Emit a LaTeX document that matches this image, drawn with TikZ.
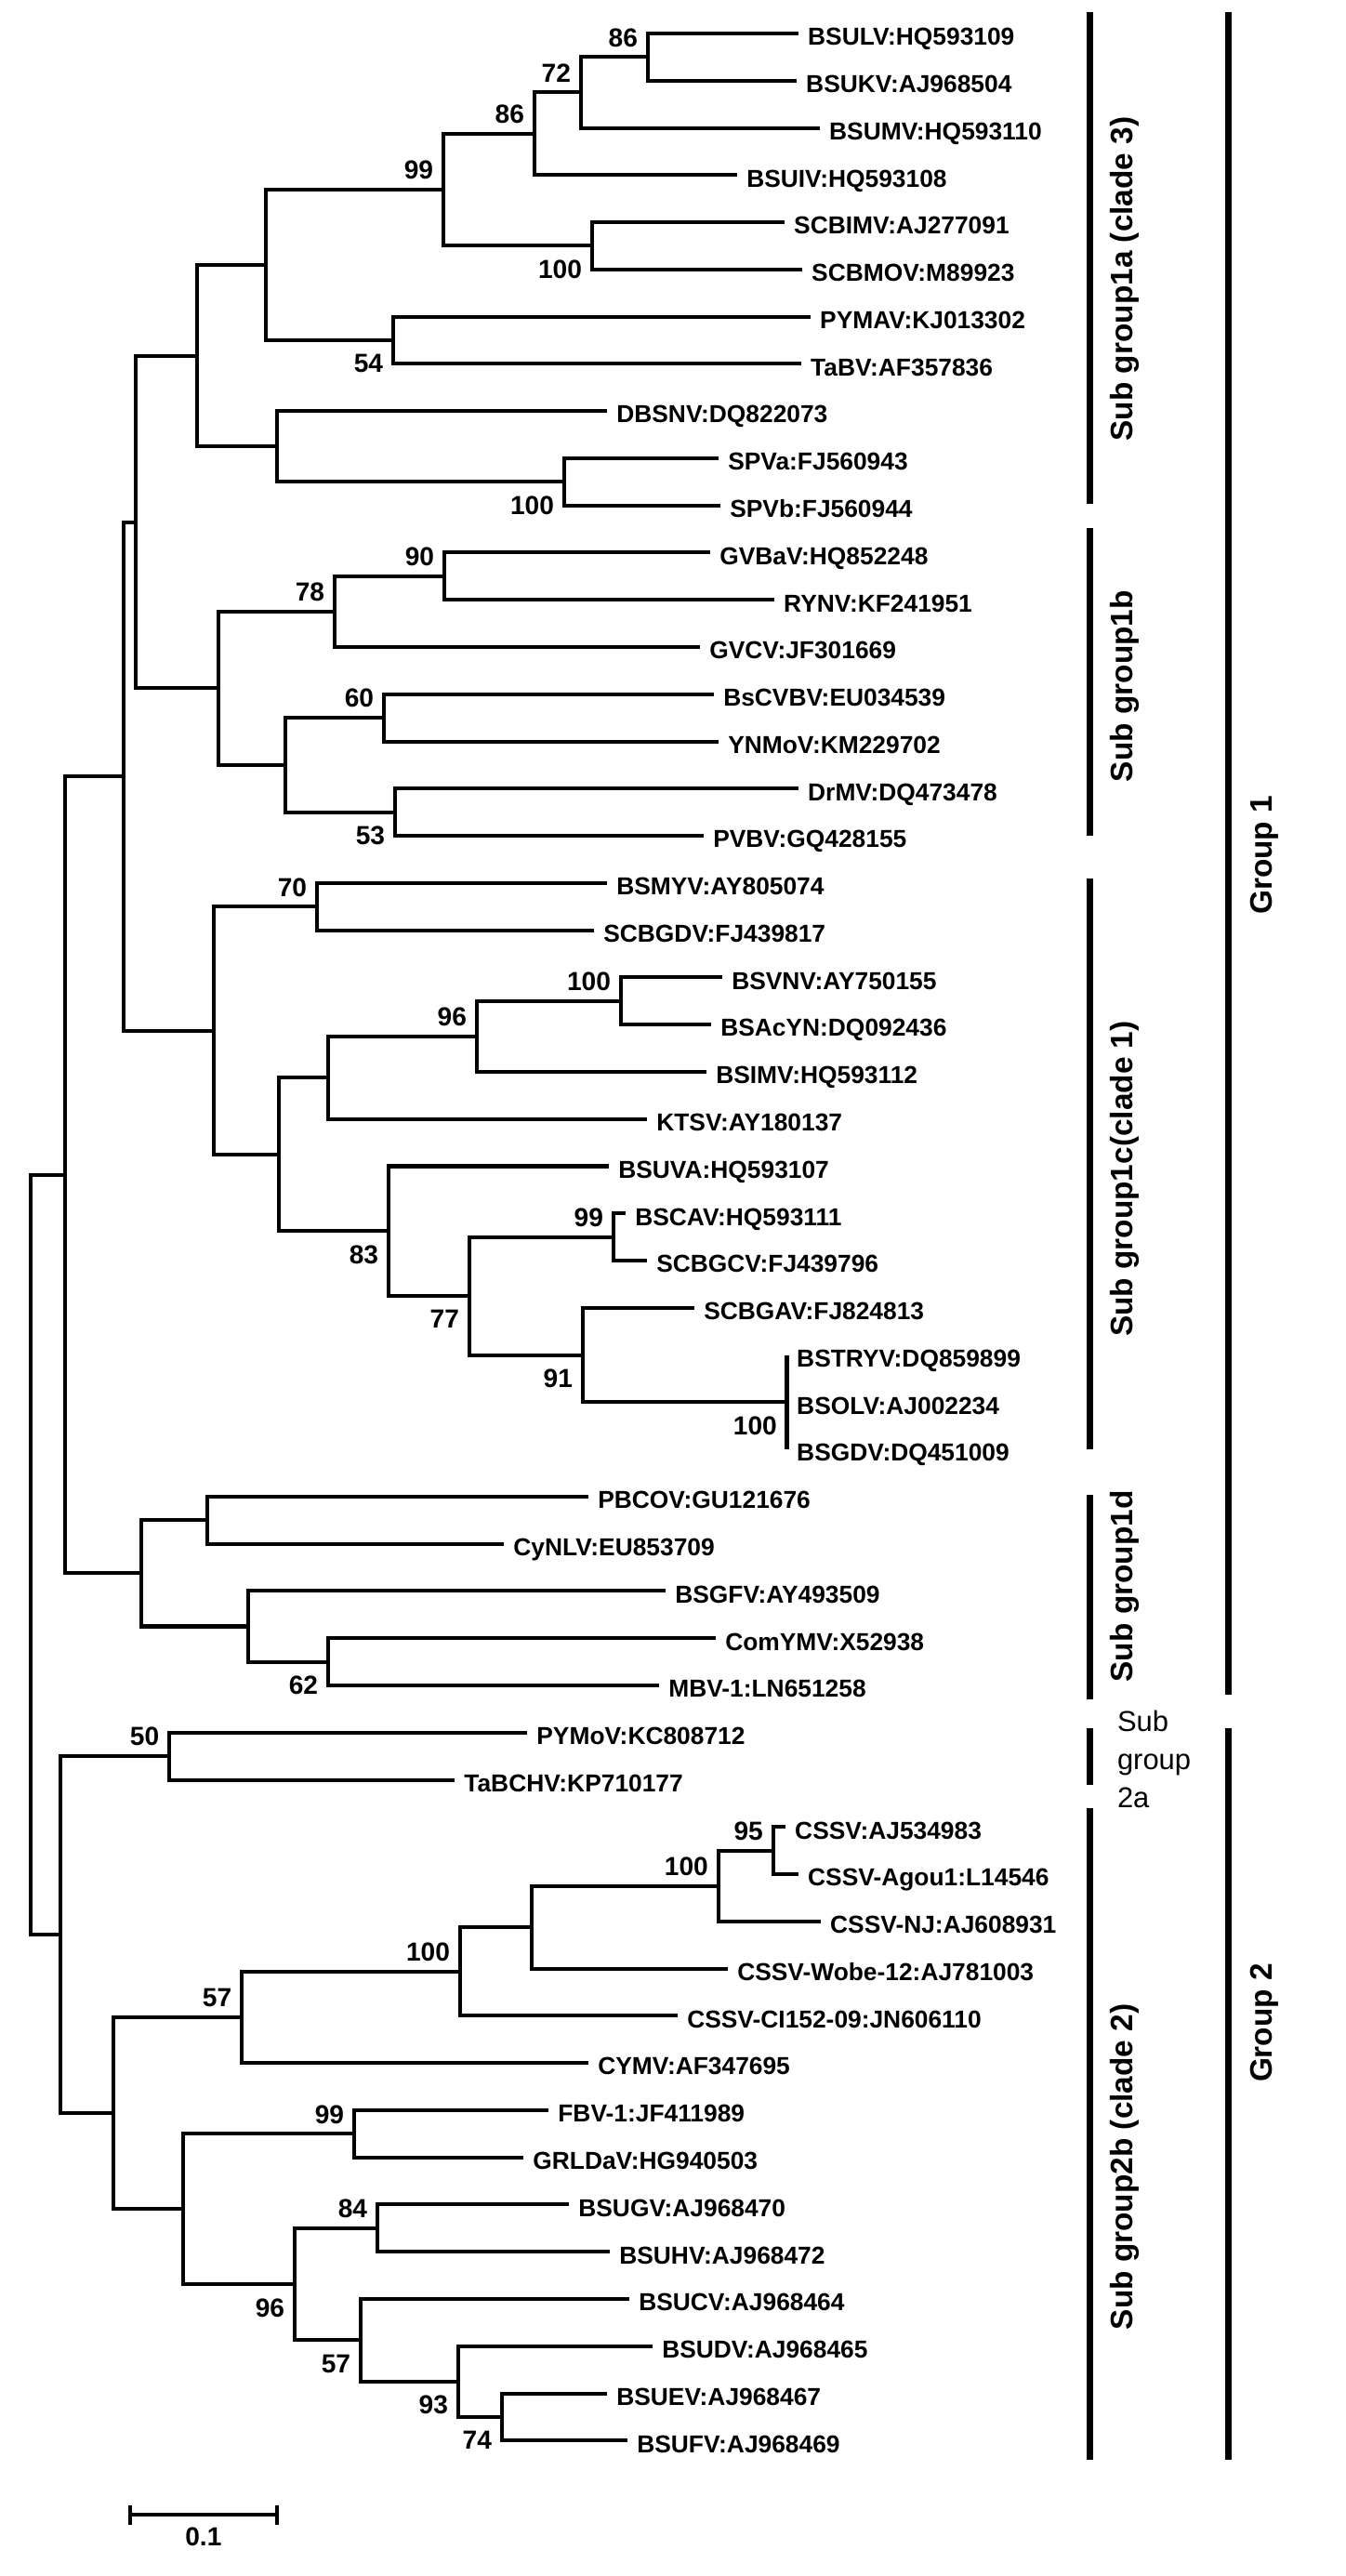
\documentclass[tikz,border=0pt]{standalone}
\usepackage{fontspec}
\setmainfont{Liberation Sans}
\tikzset{
  branch/.style={line width=1.15pt, line join=miter},
  groupbar/.style={line width=1.85pt},
  taxon/.style={anchor=west, inner sep=0pt, font=\fontsize{7.5}{9}\selectfont\bfseries, text height=1.38ex, text depth=0pt},
  bs/.style={anchor=east, inner sep=0pt, font=\fontsize{8}{9}\selectfont\bfseries, text height=1.38ex, text depth=0pt},
  grouplabel/.style={rotate=90, inner sep=0pt, font=\fontsize{9.5}{11}\selectfont\bfseries}
}
% taxon tip: name, leaf row, tip x, label
\newcommand{\leafnode}[4]{%
 \coordinate (#1) at (#3,#2);%
 \node[taxon] (#1-lab) at ([xshift=0.1cm]#1) {#4};%
}
% bootstrap value above / below the branch entering a node
\newcommand{\bsup}[2]{%
 \node[bs] (#1-bs) at ([xshift=-0.1cm,yshift=0.24cm]#1) {#2};%
}
\newcommand{\bsdown}[2]{%
 \node[bs] (#1-bs) at ([xshift=-0.1cm,yshift=-0.22cm]#1) {#2};%
}
\begin{document}
\begin{tikzpicture}[x=0.01cm, y=-0.5077cm]
  \useasboundingbox (0,0.291) rectangle (1448,54.87);
  \leafnode{BSULV}{1}{859}{BSULV:HQ593109}
  \leafnode{BSUKV}{2}{857}{BSUKV:AJ968504}
  \leafnode{BSUMV}{3}{882}{BSUMV:HQ593110}
  \leafnode{BSUIV}{4}{793}{BSUIV:HQ593108}
  \leafnode{SCBIMV}{5}{844}{SCBIMV:AJ277091}
  \leafnode{SCBMOV}{6}{863}{SCBMOV:M89923}
  \leafnode{PYMAV}{7}{872}{PYMAV:KJ013302}
  \leafnode{TaBV}{8}{862}{TaBV:AF357836}
  \leafnode{DBSNV}{9}{653}{DBSNV:DQ822073}
  \leafnode{SPVa}{10}{773}{SPVa:FJ560943}
  \leafnode{SPVb}{11}{775}{SPVb:FJ560944}
  \leafnode{GVBaV}{12}{764}{GVBaV:HQ852248}
  \leafnode{RYNV}{13}{833}{RYNV:KF241951}
  \leafnode{GVCV}{14}{753}{GVCV:JF301669}
  \leafnode{BsCVBV}{15}{768}{BsCVBV:EU034539}
  \leafnode{YNMoV}{16}{773}{YNMoV:KM229702}
  \leafnode{DrMV}{17}{859}{DrMV:DQ473478}
  \leafnode{PVBV}{18}{757}{PVBV:GQ428155}
  \leafnode{BSMYV}{19}{653}{BSMYV:AY805074}
  \leafnode{SCBGDV}{20}{639}{SCBGDV:FJ439817}
  \leafnode{BSVNV}{21}{777}{BSVNV:AY750155}
  \leafnode{BSAcYN}{22}{765}{BSAcYN:DQ092436}
  \leafnode{BSIMV}{23}{760}{BSIMV:HQ593112}
  \leafnode{KTSV}{24}{696}{KTSV:AY180137}
  \leafnode{BSUVA}{25}{655}{BSUVA:HQ593107}
  \leafnode{BSCAV}{26}{673}{BSCAV:HQ593111}
  \leafnode{SCBGCV}{27}{696}{SCBGCV:FJ439796}
  \leafnode{SCBGAV}{28}{747}{SCBGAV:FJ824813}
  \leafnode{BSTRYV}{29}{847}{BSTRYV:DQ859899}
  \leafnode{BSOLV}{30}{847}{BSOLV:AJ002234}
  \leafnode{BSGDV}{31}{847}{BSGDV:DQ451009}
  \leafnode{PBCOV}{32}{633}{PBCOV:GU121676}
  \leafnode{CyNLV}{33}{542}{CyNLV:EU853709}
  \leafnode{BSGFV}{34}{716}{BSGFV:AY493509}
  \leafnode{ComYMV}{35}{770}{ComYMV:X52938}
  \leafnode{MBV1}{36}{709}{MBV-1:LN651258}
  \leafnode{PYMoV}{37}{567}{PYMoV:KC808712}
  \leafnode{TaBCHV}{38}{489}{TaBCHV:KP710177}
  \leafnode{CSSV}{39}{845}{CSSV:AJ534983}
  \leafnode{CSSVAgou}{40}{859}{CSSV-Agou1:L14546}
  \leafnode{CSSVNJ}{41}{883}{CSSV-NJ:AJ608931}
  \leafnode{CSSVWobe}{42}{783}{CSSV-Wobe-12:AJ781003}
  \leafnode{CSSVCI}{43}{729}{CSSV-CI152-09:JN606110}
  \leafnode{CYMV}{44}{633}{CYMV:AF347695}
  \leafnode{FBV1}{45}{590}{FBV-1:JF411989}
  \leafnode{GRLDaV}{46}{563}{GRLDaV:HG940503}
  \leafnode{BSUGV}{47}{612}{BSUGV:AJ968470}
  \leafnode{BSUHV}{48}{656}{BSUHV:AJ968472}
  \leafnode{BSUCV}{49}{677}{BSUCV:AJ968464}
  \leafnode{BSUDV}{50}{702}{BSUDV:AJ968465}
  \leafnode{BSUEV}{51}{653}{BSUEV:AJ968467}
  \leafnode{BSUFV}{52}{675}{BSUFV:AJ968469}
  \foreach \n/\x/\y in {n86a/697/1.5, n72/625/2.25, n86b/575/3.125, n100a/637/5.5,
    n99a/477/4.3125, n54/423/7.5, nA/286/5.906, n100b/607/10.5, nC/298/9.75,
    nB/212/7.828, n90/478/12.5, n78/360/13.25, n60/413/15.5, n53/425/17.5,
    nM/307/16.5, n1b/235/14.875, nD/146/11.352, n70/341/19.5, n100c/668/21.5,
    n96a/513/22.25, nL/353/23.125, n99b/660/26.5, n100d/847/30, n91/627/29,
    n77/505/27.75, n83/418/26.375, nF/300/24.75, n1c/230/22.125, nE/133/16.738,
    nH/223/32.5, n62/353/35.5, nI/267/34.75, n1d/152/33.625, nG/70/25.18,
    n50/182/37.5, n95/832/39.5, n100e/773/40.25, nW/572/41.125, n100f/495/42.0625,
    n57a/260/43.03, n99c/381/45.5, n84/406/47.5, n74/540/51.5, n93/493/50.75,
    n57b/388/49.875, n96b/317/48.69, nK/197/47.09, n2b/122/45.06, n2/65/41.28,
    root/33/33.23}
    \coordinate (\n) at (\x,\y);
  \foreach \p/\c in {root/nG, root/n2, nG/nE, nG/n1d, nE/nD, nE/n1c, nD/nB, nD/n1b,
    nB/nA, nB/nC, nA/n99a, nA/n54, n99a/n86b, n99a/n100a, n86b/n72, n86b/BSUIV,
    n72/n86a, n72/BSUMV, n86a/BSULV, n86a/BSUKV, n100a/SCBIMV, n100a/SCBMOV,
    n54/PYMAV, n54/TaBV, nC/DBSNV, nC/n100b, n100b/SPVa, n100b/SPVb,
    n1b/n78, n1b/nM, n78/n90, n78/GVCV, n90/GVBaV, n90/RYNV, nM/n60, nM/n53,
    n60/BsCVBV, n60/YNMoV, n53/DrMV, n53/PVBV,
    n1c/n70, n1c/nF, n70/BSMYV, n70/SCBGDV, nF/nL, nF/n83, nL/n96a, nL/KTSV,
    n96a/n100c, n96a/BSIMV, n100c/BSVNV, n100c/BSAcYN, n83/BSUVA, n83/n77,
    n77/n99b, n77/n91, n99b/BSCAV, n99b/SCBGCV, n91/SCBGAV, n91/n100d,
    n100d/BSTRYV, n100d/BSOLV, n100d/BSGDV,
    n1d/nH, n1d/nI, nH/PBCOV, nH/CyNLV, nI/BSGFV, nI/n62, n62/ComYMV, n62/MBV1,
    n2/n50, n2/n2b, n50/PYMoV, n50/TaBCHV, n2b/n57a, n2b/nK, n57a/n100f, n57a/CYMV,
    n100f/nW, n100f/CSSVCI, nW/n100e, nW/CSSVWobe, n100e/n95, n100e/CSSVNJ,
    n95/CSSV, n95/CSSVAgou, nK/n99c, nK/n96b, n99c/FBV1, n99c/GRLDaV,
    n96b/n84, n96b/n57b, n84/BSUGV, n84/BSUHV, n57b/BSUCV, n57b/n93,
    n93/BSUDV, n93/n74, n74/BSUEV, n74/BSUFV}
    \draw[branch] (\p) |- (\c);
  \bsup{n86a}{86} \bsup{n72}{72} \bsup{n86b}{86} \bsup{n99a}{99}
  \bsdown{n100a}{100} \bsdown{n54}{54} \bsdown{n100b}{100}
  \bsup{n90}{90} \bsup{n78}{78} \bsup{n60}{60} \bsdown{n53}{53}
  \bsup{n70}{70} \bsup{n100c}{100} \bsup{n96a}{96} \bsdown{n83}{83}
  \bsup{n99b}{99} \bsdown{n77}{77} \bsdown{n91}{91} \bsdown{n100d}{100}
  \bsdown{n62}{62} \bsup{n50}{50}
  \bsup{n95}{95} \bsup{n100e}{100} \bsup{n100f}{100} \bsup{n57a}{57}
  \bsup{n99c}{99} \bsup{n84}{84} \bsdown{n96b}{96} \bsdown{n57b}{57}
  \bsdown{n93}{93} \bsdown{n74}{74}
  \draw[groupbar] (1173,0.55) -- (1173,10.97);
  \draw[groupbar] (1173,11.48) -- (1173,18.0);
  \draw[groupbar] (1173,18.9) -- (1173,31.0);
  \draw[groupbar] (1173,31.96) -- (1173,36.3);
  \draw[groupbar] (1173,36.9) -- (1173,38.1);
  \draw[groupbar] (1173,38.6) -- (1173,52.4);
  \draw[groupbar] (1322,0.55) -- (1322,36.2);
  \draw[groupbar] (1322,36.9) -- (1322,52.4);
  \node[grouplabel] (sg1a) at (1211,6.2) {Sub group1a (clade 3)};
  \node[grouplabel] (sg1b) at (1211,14.83) {Sub group1b};
  \node[grouplabel] (sg1c) at (1211,25.27) {Sub group1c(clade 1)};
  \node[grouplabel] (sg1d) at (1211,33.9) {Sub group1d};
  \node[grouplabel] (sg2b) at (1211,46.2) {Sub group2b (clade 2)};
  \node[grouplabel] (g1) at (1361,18.41) {Group 1};
  \node[grouplabel] (g2) at (1361,43.15) {Group 2};
  \node[anchor=west, align=left, inner sep=0pt, font=\fontsize{8.8}{11.7}\selectfont] (sg2a) at (1202,37.56) {Sub\\group\\2a};
  \coordinate (sb1) at (140,53.57);
  \coordinate (sb2) at (298,53.57);
  \draw[branch] (sb1) -- (sb2);
  \draw[branch] ([yshift=0.105cm]sb1) -- ([yshift=-0.105cm]sb1);
  \draw[branch] ([yshift=0.105cm]sb2) -- ([yshift=-0.105cm]sb2);
  \node[font=\fontsize{8}{9}\selectfont\bfseries, inner sep=0pt] (sblab) at (219,54.04) {0.1};
\end{tikzpicture}
\end{document}
